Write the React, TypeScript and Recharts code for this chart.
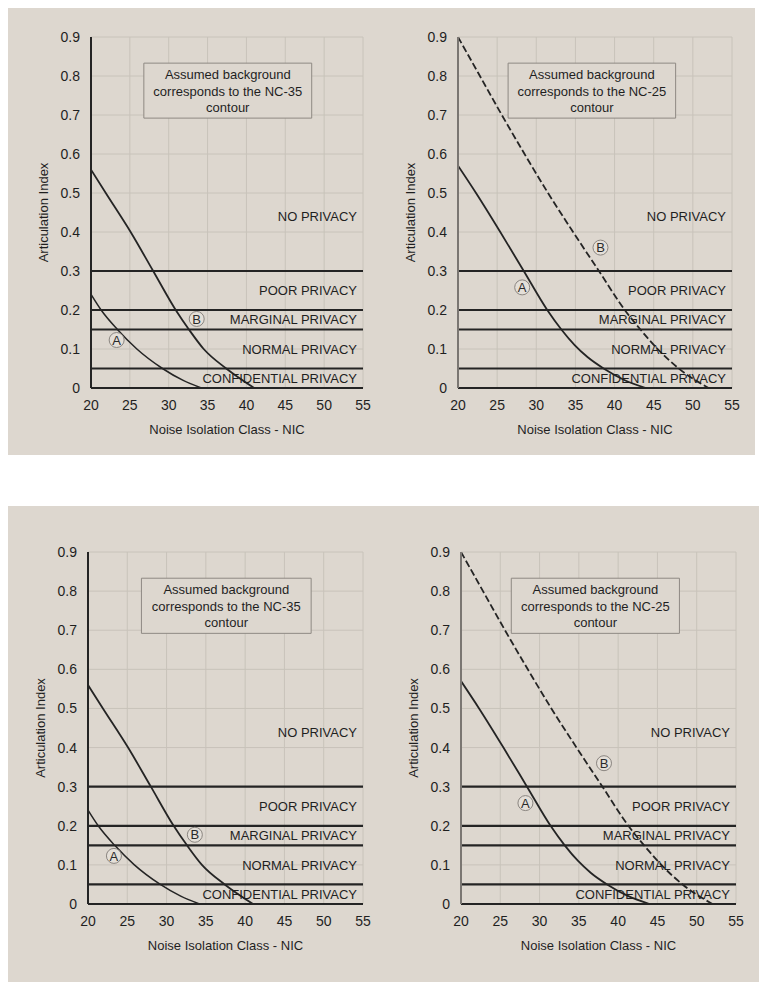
import React from 'react';
import {
  LineChart,
  Line,
  XAxis,
  YAxis,
  CartesianGrid,
  ReferenceLine,
  ReferenceArea,
  ReferenceDot,
  Label,
} from 'recharts';

const X_TICKS = [20, 25, 30, 35, 40, 45, 50, 55];
const Y_TICKS = [0, 0.1, 0.2, 0.3, 0.4, 0.5, 0.6, 0.7, 0.8, 0.9];
const PRIVACY_LIMITS = [0.3, 0.2, 0.15, 0.05, 0];
const ZONE_NAMES = ['NO PRIVACY', 'POOR PRIVACY', 'MARGINAL PRIVACY', 'NORMAL PRIVACY', 'CONFIDENTIAL PRIVACY'];
const ZONE_Y = [0.44, 0.25, 0.175, 0.1, 0.025];

// NC-35 background
const NC35_A = [
  { x: 20, y: 0.24 },
  { x: 21.3, y: 0.2 },
  { x: 23.4, y: 0.15 },
  { x: 25.9, y: 0.1 },
  { x: 29.2, y: 0.05 },
  { x: 31.8, y: 0.02 },
  { x: 34.2, y: 0 },
];
const NC35_B = [
  { x: 20, y: 0.56 },
  { x: 21.9, y: 0.5 },
  { x: 25.1, y: 0.4 },
  { x: 28, y: 0.3 },
  { x: 30.9, y: 0.2 },
  { x: 32.6, y: 0.15 },
  { x: 34.5, y: 0.1 },
  { x: 37.4, y: 0.05 },
  { x: 41, y: 0 },
];
const NC35_MARKS = [
  { name: 'A', x: 23.3, y: 0.123 },
  { name: 'B', x: 33.6, y: 0.177 },
];

// NC-25 background
const NC25_A = [
  { x: 20, y: 0.57 },
  { x: 22.3, y: 0.5 },
  { x: 25.4, y: 0.4 },
  { x: 28.4, y: 0.3 },
  { x: 31.4, y: 0.2 },
  { x: 33.2, y: 0.15 },
  { x: 34.9, y: 0.11 },
  { x: 36.5, y: 0.08 },
  { x: 38.6, y: 0.05 },
  { x: 41.3, y: 0.02 },
  { x: 44, y: 0 },
];
const NC25_B = [
  { x: 20, y: 0.9 },
  { x: 22.8, y: 0.8 },
  { x: 25.6, y: 0.7 },
  { x: 28.5, y: 0.6 },
  { x: 31.5, y: 0.5 },
  { x: 34.7, y: 0.4 },
  { x: 38, y: 0.3 },
  { x: 41.3, y: 0.2 },
  { x: 43.3, y: 0.15 },
  { x: 45.5, y: 0.1 },
  { x: 48.2, y: 0.05 },
  { x: 52, y: 0 },
];
const NC25_MARKS = [
  { name: 'A', x: 28.2, y: 0.258 },
  { name: 'B', x: 38.2, y: 0.36 },
];

const NOTE_NC35 = ['Assumed background', 'corresponds to the NC-35', 'contour'];
const NOTE_NC25 = ['Assumed background', 'corresponds to the NC-25', 'contour'];

const BG = '#ddd7cf';
const INK = '#242424';
const TEXT = '#1f1f1f';
const FONT = '"Liberation Sans", Arial, sans-serif';

const renderNote = (lines: string[]) => (props: any) => {
  const vb = props.viewBox || {};
  const cx = vb.x + vb.width / 2;
  return (
    <text x={cx} y={vb.y + 16} textAnchor="middle" fontSize={13} fill={TEXT} fontFamily={FONT}>
      {lines.map((l, i) => (
        <tspan key={i} x={cx} dy={i === 0 ? 0 : 16.5}>
          {l}
        </tspan>
      ))}
    </text>
  );
};

type Curve = { data: { x: number; y: number }[]; dashed?: boolean; width?: number };

type PanelProps = {
  left: number;
  top: number;
  width: number;
  height: number;
  margin: { top: number; right: number; bottom: number; left: number };
  note: string[];
  noteX: [number, number];
  curves: Curve[];
  marks: { name: string; x: number; y: number }[];
  axisColor: string;
};

const Panel: React.FC<PanelProps> = ({ left, top, width, height, margin, note, noteX, curves, marks, axisColor }) => (
  <div style={{ position: 'absolute', left, top }}>
    <LineChart width={width} height={height} margin={margin}>
      <CartesianGrid stroke="#c8c3ba" strokeWidth={1} />
      <XAxis
        type="number"
        dataKey="x"
        domain={[20, 55]}
        ticks={X_TICKS}
        axisLine={false}
        tickLine={false}
        tickMargin={6}
        height={50}
        tick={{ fill: TEXT, fontSize: 14 }}
        allowDataOverflow
      >
        <Label value="Noise Isolation Class - NIC" position="insideBottom" offset={4} fill={TEXT} fontSize={13} />
      </XAxis>
      <YAxis
        type="number"
        dataKey="y"
        domain={[0, 0.9]}
        ticks={Y_TICKS}
        width={50}
        axisLine={{ stroke: axisColor, strokeWidth: 2 }}
        tickLine={false}
        tickMargin={5}
        tick={{ fill: TEXT, fontSize: 14 }}
        tickFormatter={(v: number) => (v === 0 ? '0' : v.toFixed(1))}
        allowDataOverflow
      >
        <Label
          value="Articulation Index"
          angle={-90}
          position="insideLeft"
          offset={2}
          fill={TEXT}
          fontSize={13}
          style={{ textAnchor: 'middle' }}
        />
      </YAxis>
      <ReferenceArea
        x1={noteX[0]}
        x2={noteX[1]}
        y1={0.692}
        y2={0.833}
        fill={BG}
        fillOpacity={1}
        stroke="#8e8983"
        strokeWidth={1}
        label={renderNote(note)}
      />
      {PRIVACY_LIMITS.map((v) => (
        <ReferenceLine key={v} y={v} stroke={INK} strokeWidth={2.2} />
      ))}
      {ZONE_NAMES.map((name, i) => (
        <ReferenceDot
          key={name}
          x={55}
          y={ZONE_Y[i]}
          r={0}
          fill="none"
          stroke="none"
          label={{ value: name, position: 'left', offset: 6, fill: TEXT, fontSize: 13 }}
        />
      ))}
      {curves.map((c, i) => (
        <Line
          key={i}
          data={c.data}
          dataKey="y"
          type="monotone"
          stroke={INK}
          strokeWidth={c.width ?? 1.8}
          strokeDasharray={c.dashed ? '7 3' : undefined}
          dot={false}
          activeDot={false}
          isAnimationActive={false}
        />
      ))}
      {marks.map((m) => (
        <ReferenceDot
          key={m.name}
          x={m.x}
          y={m.y}
          r={7.5}
          fill="#e4dfd8"
          stroke="#8a8580"
          strokeWidth={1}
          label={{ value: m.name, position: 'center', fill: '#2a2a2a', fontSize: 13 }}
        />
      ))}
    </LineChart>
  </div>
);

export default function App() {
  return (
    <div
      style={{
        position: 'relative',
        width: 768,
        height: 990,
        margin: -8,
        background: '#fff',
        fontFamily: FONT,
        overflow: 'hidden',
      }}
    >
      <div style={{ position: 'absolute', left: 7, top: 7, width: 748, height: 448, background: BG }} />
      <div style={{ position: 'absolute', left: 3, top: 506, width: 756, height: 476, background: BG }} />

      <Panel
        left={0}
        top={0}
        width={384}
        height={455}
        margin={{ top: 37, right: 21, bottom: 17, left: 41 }}
        note={NOTE_NC35}
        noteX={[26.8, 48.4]}
        curves={[{ data: NC35_A, width: 1.5 }, { data: NC35_B }]}
        marks={NC35_MARKS}
        axisColor={INK}
      />
      <Panel
        left={384}
        top={0}
        width={384}
        height={455}
        margin={{ top: 37, right: 36, bottom: 17, left: 24 }}
        note={NOTE_NC25}
        noteX={[26.4, 47.8]}
        curves={[{ data: NC25_A }, { data: NC25_B, dashed: true }]}
        marks={NC25_MARKS}
        axisColor="#7a7672"
      />
      <Panel
        left={0}
        top={470}
        width={384}
        height={520}
        margin={{ top: 82, right: 21, bottom: 36, left: 38 }}
        note={NOTE_NC35}
        noteX={[26.8, 48.4]}
        curves={[{ data: NC35_A, width: 1.5 }, { data: NC35_B }]}
        marks={NC35_MARKS}
        axisColor={INK}
      />
      <Panel
        left={384}
        top={470}
        width={384}
        height={520}
        margin={{ top: 82, right: 32, bottom: 36, left: 27 }}
        note={NOTE_NC25}
        noteX={[26.4, 47.8]}
        curves={[{ data: NC25_A }, { data: NC25_B, dashed: true }]}
        marks={NC25_MARKS}
        axisColor="#7a7672"
      />
    </div>
  );
}
